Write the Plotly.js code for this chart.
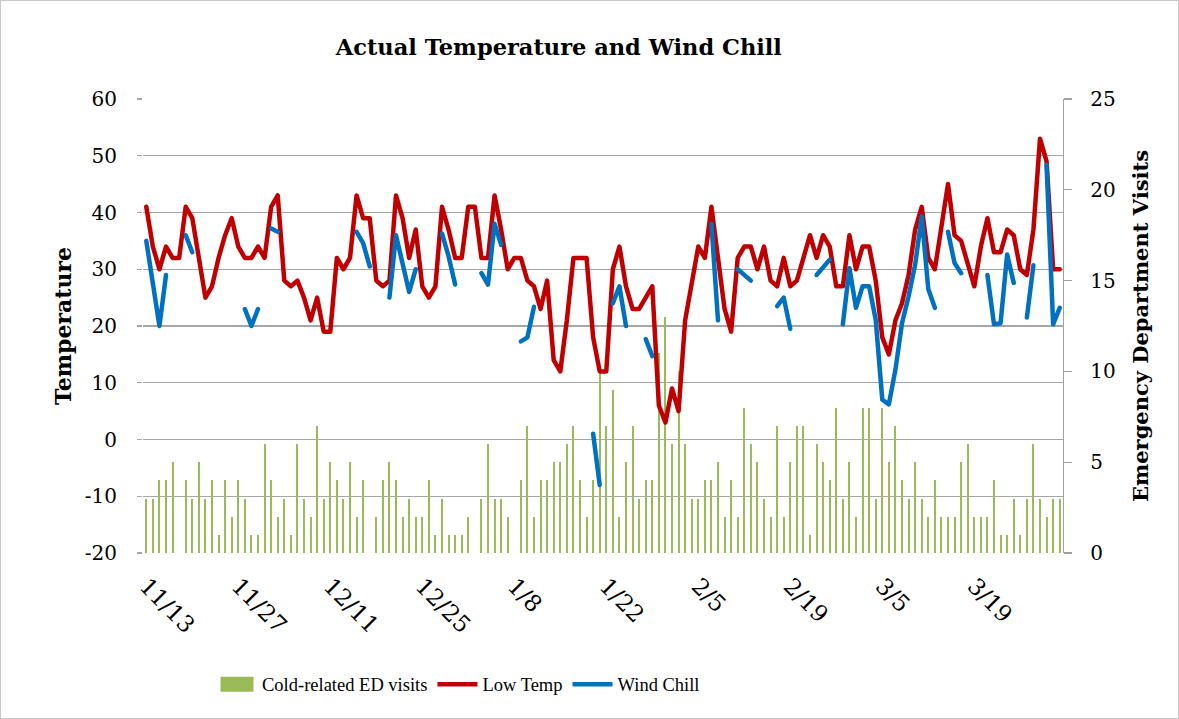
<!DOCTYPE html>
<html>
<head>
<meta charset="utf-8">
<script src="https://cdn.plot.ly/plotly-3.0.1.min.js"></script>
<style>
  html, body { margin: 0; padding: 0; background: #fff; }
  #wrap { position: relative; width: 1179px; height: 719px; }
  #chart { width: 1179px; height: 719px; }
  #frame { position: absolute; left: 0; top: 0; width: 1177px; height: 717px; border: 1px solid #c8c8c8; pointer-events: none; }
  .scatterlayer path.js-line { stroke-linecap: round !important; stroke-linejoin: round !important; }
</style>
</head>
<body>
<div id="wrap"><div id="chart"></div><div id="frame"></div></div>
<script>
// Daily values from 11/13 onward (one entry per day)
const edVisits = [
  3,3,4,4,5,0,4,3,5,3,4,1,4,2,4,3,1,1,6,4,2,3,1,6,3,2,7,3,5,4,3,5,2,4,
  0,2,4,5,4,2,3,2,2,4,1,3,1,1,1,2,0,3,6,3,3,2,0,4,7,2,4,4,5,5,6,7,4,2,4,
  10,7,9,2,5,7,3,4,4,11,13,6,10,6,3,3,4,4,5,2,4,2,8,6,5,3,2,7,2,5,7,7,1,6,5,4,
  8,3,5,2,8,8,3,8,5,7,4,3,5,3,2,4,2,2,2,5,6,2,2,2,4,1,1,3,1,3,6,3,2,3,3
];
const lowTemp = [
  41,34,30,34,32,32,41,39,32,25,27,32,36,39,34,32,32,34,32,41,43,28,27,28,25,21,25,19,19,32,30,32,43,39,
  39,28,27,28,43,39,32,37,27,25,27,41,37,32,32,41,41,32,32,43,37,30,32,32,28,27,23,28,14,12,21,32,32,32,18,
  12,12,30,34,27,23,23,25,27,6,3,9,5,21,27,34,32,41,32,23,19,32,34,34,30,34,28,27,32,27,28,32,36,32,36,34,
  27,27,36,30,34,34,28,18,15,21,24,29,37,41,32,30,37,45,36,35,31,27,34,39,33,33,37,36,30,29,37,53,49,30,30
];
const windChill = [
  35,27,20,29,null,null,36,33,null,null,null,null,null,null,null,23,20,23,null,37.2,36.6,
  null,null,null,null,null,null,null,null,null,null,null,36.6,34.6,30.5,null,null,25,36,31,26,30,
  null,null,null,36.3,32.3,27.3,null,null,null,29.3,27.3,38,34.3,null,null,17.3,18,23.4,
  null,null,null,null,null,null,null,null,1,-8,null,24,27,20,null,null,17.7,14.7,
  null,null,null,null,null,null,null,null,38,21,null,null,30,29,28,null,null,null,23.5,25,19.5,
  null,null,null,29,30.5,31.7,null,20.3,30.2,23.2,27,27,21.1,7,6.2,12.3,20.5,25.2,30.8,39.3,26.5,23.2,
  null,36.6,31.1,29.3,null,null,null,29,20.3,20.5,32.6,27.6,null,21.5,30.7,null,48.4,20.3,23.2
];
const tickLabels = ['11/13','11/27','12/11','12/25','1/8','1/22','2/5','2/19','3/5','3/19'];
const tickDays = [0,14,28,42,56,70,84,98,112,126];
const tempTicks = [-20,-10,0,10,20,30,40,50,60];
const tempTickText = ['-20','-10','0','10','20','30','40','50','60'];

const dayIdx = lowTemp.map((_, i) => i);
const serif = 'DejaVu Serif, Liberation Serif, serif';

const traces = [
  { type: 'bar', name: 'Cold-related ED visits', x: dayIdx, y: edVisits,
    marker: { color: '#9BBB59', line: { width: 0 } }, width: 0.32, yaxis: 'y' },
  { type: 'scatter', mode: 'lines', name: 'Low Temp', x: dayIdx, y: lowTemp,
    line: { color: '#C00000', width: 4.5 }, yaxis: 'y2' },
  { type: 'scatter', mode: 'lines', name: 'Wind Chill', x: dayIdx, y: windChill,
    line: { color: '#0070C0', width: 4.5 }, connectgaps: false, yaxis: 'y2' }
];

const layout = {
  width: 1179, height: 719,
  paper_bgcolor: '#fff', plot_bgcolor: '#fff',
  margin: { l: 143, r: 116, t: 99, b: 166 },
  title: { text: 'Actual Temperature and Wind Chill', x: 0.474, xanchor: 'center',
           y: 0.935, yanchor: 'middle',
           font: { family: serif, size: 22.5, color: '#000', weight: 'bold' } },
  showlegend: true,
  legend: { orientation: 'h', x: 0.075, xanchor: 'left', y: -0.29, yanchor: 'middle',
            font: { family: 'Liberation Serif, serif', size: 18.5, color: '#000' },
            itemwidth: 40, traceorder: 'normal' },
  bargap: 0,
  xaxis: { range: [-0.5, 139.5], tickmode: 'array', tickvals: tickDays, ticktext: tickLabels,
           tickangle: 45, showgrid: false, zeroline: false, showline: false, ticks: '',
           ticklabelstandoff: 14,
           tickfont: { family: serif, size: 23, color: '#000' } },
  yaxis: { side: 'right', range: [0, 25], dtick: 5, showgrid: false, zeroline: false,
           showline: true, linecolor: '#a0a0a0', linewidth: 1.3,
           ticks: 'outside', ticklen: 8, tickcolor: '#a0a0a0', tickwidth: 1.3,
           ticklabelstandoff: 14,
           tickfont: { family: serif, size: 20, color: '#000' },
           title: { text: 'Emergency Department Visits', standoff: 18,
                    font: { family: serif, size: 21, color: '#000', weight: 'bold' } } },
  yaxis2: { overlaying: 'y', side: 'left', range: [-20, 60],
            tickmode: 'array', tickvals: tempTicks, ticktext: tempTickText,
            showgrid: true, gridcolor: '#a6a6a6', gridwidth: 1.3, zeroline: false,
            showline: false, ticks: 'outside', ticklen: 5, tickcolor: '#a6a6a6', tickwidth: 1.3,
            ticklabelstandoff: 16,
            tickfont: { family: serif, size: 20, color: '#000' },
            title: { text: 'Temperature', standoff: 7,
                     font: { family: serif, size: 22, color: '#000', weight: 'bold' } } }
};

Plotly.newPlot('chart', traces, layout, { displayModeBar: false, staticPlot: true }).then(function (gd) {
  // enlarge the bar legend swatch to a wide rectangle like the original
  const first = gd.querySelector('.legend .traces');
  if (first) {
    const p = first.querySelector('.legendpoints path');
    if (p) p.setAttribute('d', 'M-16.5,-7.5H16.5V7.5H-16.5Z');
  }
});
</script>
</body>
</html>
